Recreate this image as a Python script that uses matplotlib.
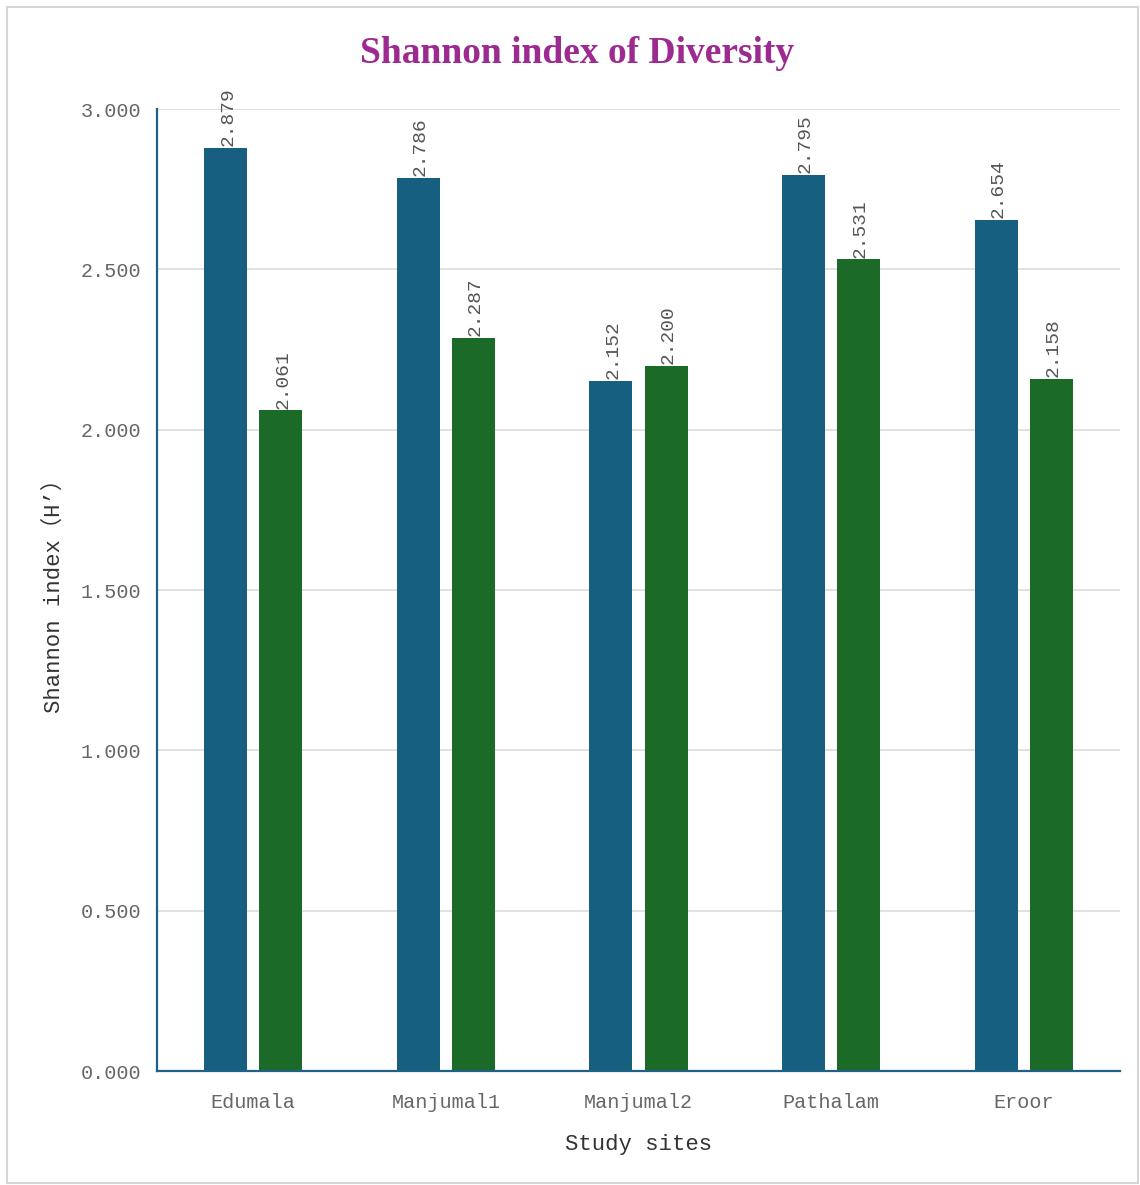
import matplotlib
matplotlib.use('Agg')
import matplotlib.pyplot as plt
import numpy as np
from matplotlib.patches import Rectangle

sites = ['Edumala', 'Manjumal1', 'Manjumal2', 'Pathalam', 'Eroor']
h_first = [2.879, 2.786, 2.152, 2.795, 2.654]
h_second = [2.061, 2.287, 2.200, 2.531, 2.158]
yticks = [0.0, 0.5, 1.0, 1.5, 2.0, 2.5, 3.0]

mono = ['Liberation Mono', 'Noto Sans CJK SC', 'DejaVu Sans']
blue = '#175f80'
green = '#1c6a27'
spine_col = '#1f6285'

fig = plt.figure(figsize=(11.4, 11.85), dpi=100)
fig.patches.append(Rectangle((0.006, 0.002), 0.992, 0.992, transform=fig.transFigure,
                             fill=False, edgecolor='#d6d6d6', linewidth=1.5))
ax = fig.add_axes([0.1377, 0.0962, 0.8448, 0.8118])

x = np.arange(len(sites))
w = 0.223
off = 0.143
b1 = ax.bar(x - off, h_first, w, color=blue, zorder=3)
b2 = ax.bar(x + off, h_second, w, color=green, zorder=3)

# value labels, rotated, sitting on top of each bar
for bars, vals in ((b1, h_first), (b2, h_second)):
    for b, v in zip(bars, vals):
        ax.text(b.get_x() + b.get_width() / 2 + 0.01, v + 0.005, '%.3f' % v,
                rotation=90, ha='center', va='bottom', fontsize=14,
                family=mono, color='#555555', clip_on=False, zorder=4)

ax.set_xlim(-0.5, len(sites) - 0.5)
ax.set_ylim(0, 3.0)
ax.set_yticks(yticks)
ax.set_yticklabels(['%.3f' % t for t in yticks], family=mono, fontsize=14.5, color='#666666')
ax.set_xticks(x)
ax.set_xticklabels(sites, family=mono, fontsize=14.5, color='#666666')
ax.tick_params(axis='y', length=0, pad=11)
ax.tick_params(axis='x', length=0, pad=16)

ax.grid(axis='y', color='#dcdcdc', linewidth=1.2, zorder=0)
for s in ('top', 'right'):
    ax.spines[s].set_visible(False)
for s in ('left', 'bottom'):
    ax.spines[s].set_color(spine_col)
    ax.spines[s].set_linewidth(1.6)
    ax.spines[s].set_zorder(5)

ax.set_xlabel('Study sites', family=mono, fontsize=16, color='#333333', labelpad=16)
ax.set_ylabel('Shannon index（H’）', family=mono, fontsize=16, color='#333333', labelpad=12)

fig.text(0.506, 0.955, 'Shannon index of Diversity', ha='center', va='center',
         family='Liberation Serif', fontweight='bold', fontsize=27, color='#9c2a91')

fig.savefig('out.png', dpi=100)
